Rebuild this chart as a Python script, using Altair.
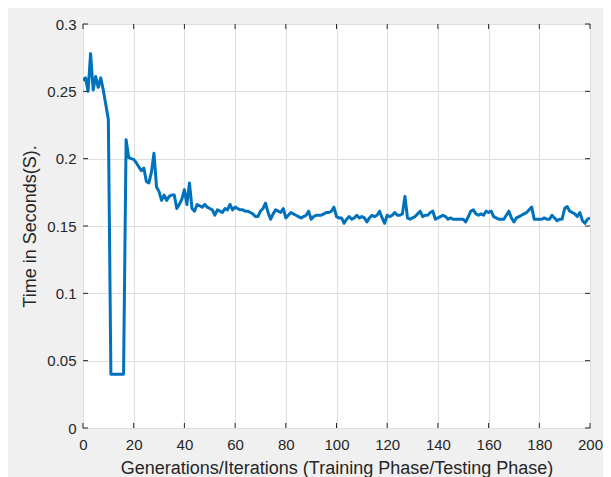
import altair as alt
import pandas as pd

x_vals = list(range(0, 201))
time_vals = [
    0.258, 0.260, 0.250, 0.278, 0.251, 0.261, 0.253, 0.260, 0.251, 0.240,
    0.229, 0.040, 0.040, 0.040, 0.040, 0.040, 0.040, 0.214, 0.201, 0.200,
    0.1995, 0.197, 0.194, 0.191, 0.193, 0.183, 0.182, 0.190, 0.204, 0.179,
    0.1755, 0.169, 0.173, 0.169, 0.172, 0.173, 0.173, 0.163, 0.166, 0.170,
    0.177, 0.166, 0.182, 0.163, 0.161, 0.166, 0.165, 0.164, 0.166, 0.164,
    0.163, 0.162, 0.158, 0.162, 0.161, 0.160, 0.163, 0.162, 0.166, 0.162,
    0.164, 0.163, 0.162, 0.162, 0.161, 0.161, 0.160, 0.159, 0.157, 0.157,
    0.161, 0.163, 0.167, 0.160, 0.155, 0.159, 0.162, 0.161, 0.160, 0.163,
    0.156, 0.158, 0.160, 0.159, 0.158, 0.157, 0.156, 0.157, 0.158, 0.161,
    0.155, 0.157, 0.158, 0.158, 0.158, 0.159, 0.160, 0.160, 0.161, 0.164,
    0.157, 0.156, 0.156, 0.152, 0.155, 0.157, 0.155, 0.156, 0.158, 0.156,
    0.157, 0.156, 0.153, 0.156, 0.158, 0.157, 0.158, 0.161, 0.156, 0.152,
    0.158, 0.157, 0.158, 0.160, 0.158, 0.158, 0.159, 0.172, 0.156, 0.155,
    0.156, 0.157, 0.159, 0.161, 0.157, 0.158, 0.158, 0.160, 0.161, 0.155,
    0.156, 0.157, 0.158, 0.157, 0.155, 0.156, 0.155, 0.155, 0.155, 0.155,
    0.155, 0.153, 0.157, 0.161, 0.162, 0.159, 0.158, 0.159, 0.158, 0.161,
    0.160, 0.161, 0.157, 0.156, 0.155, 0.155, 0.155, 0.158, 0.161, 0.156,
    0.153, 0.156, 0.157, 0.158, 0.159, 0.160, 0.162, 0.164, 0.155, 0.155,
    0.155, 0.155, 0.156, 0.155, 0.155, 0.158, 0.156, 0.154, 0.155, 0.155,
    0.163, 0.1645, 0.161, 0.160, 0.159, 0.157, 0.160, 0.154, 0.152, 0.155,
    0.156,
]
x_ticks = list(range(0, 201, 20))
y_ticks = [0, 0.05, 0.1, 0.15, 0.2, 0.25, 0.3]

df = pd.DataFrame({"x": x_vals, "t": time_vals})
xt = pd.DataFrame({"x": x_ticks})
yt = pd.DataFrame({"t": y_ticks})

W, H = 507, 404
TICK = 5
AX = "#262626"
xs = alt.Scale(domain=[0, 200], nice=False, zero=False)
ys = alt.Scale(domain=[0, 0.3], nice=False)

x_axis = alt.Axis(
    values=x_ticks, format="d", labelFlush=False,
    title="Generations/Iterations (Training Phase/Testing Phase)",
    grid=True, ticks=False, domain=False, labelPadding=9,
    titleY=45, titleBaseline="alphabetic", titleAlign="center", titleX=W / 2)
y_axis = alt.Axis(
    values=y_ticks, format="~g", labelFlush=False,
    title="Time in Seconds(S).",
    grid=True, ticks=False, domain=False, labelPadding=7,
    titleX=-53, titleY=H / 2, titleBaseline="middle", titleAlign="center", titleAngle=-90)

X = alt.X("x:Q", scale=xs, axis=x_axis)
Y = alt.Y("t:Q", scale=ys, axis=y_axis)

line = alt.Chart(df).mark_line(
    color="#0072BD", strokeWidth=3, strokeJoin="round", clip=True
).encode(x=X, y=Y)

bottom = alt.Chart(xt).mark_rule(color=AX, strokeWidth=1).encode(
    x=X, y=alt.value(H), y2=alt.value(H - TICK))
top = alt.Chart(xt).mark_rule(color=AX, strokeWidth=1).encode(
    x=X, y=alt.value(0), y2=alt.value(TICK))
left = alt.Chart(yt).mark_rule(color=AX, strokeWidth=1).encode(
    y=Y, x=alt.value(0), x2=alt.value(TICK))
right = alt.Chart(yt).mark_rule(color=AX, strokeWidth=1).encode(
    y=Y, x=alt.value(W), x2=alt.value(W - TICK))

chart = alt.layer(line, bottom, top, left, right).properties(
    width=W, height=H,
    autosize=alt.AutoSizeParams(type="none"),
    padding={"left": 75, "top": 16, "right": 13, "bottom": 49},
    background="#f0f0f0",
).configure_view(
    fill="white", stroke=AX, strokeWidth=1,
).configure_axis(
    labelFont="Liberation Sans", labelFontSize=15, labelColor=AX,
    titleFont="Liberation Sans", titleFontSize=18, titleFontWeight="normal", titleColor=AX,
    gridColor="#dedede", gridWidth=1,
)

chart.save("out.html", embed_options={"renderer": "svg", "actions": False})
